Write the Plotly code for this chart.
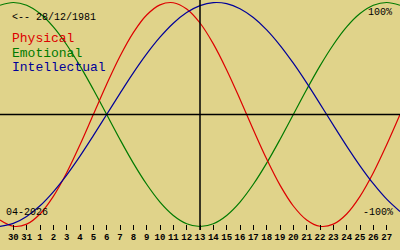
import plotly.graph_objects as go

# day index 0..30 (0 = 29 March, 15 = 13 April "today", 30 = 28 April)
days = list(range(31))

physical = [-0.942, -0.998, -0.979, -0.888, -0.731, -0.520, -0.270, 0.0, 0.270, 0.520,
            0.731, 0.888, 0.979, 0.998, 0.942, 0.817, 0.631, 0.398, 0.136, -0.136,
            -0.398, -0.631, -0.817, -0.942, -0.998, -0.979, -0.888, -0.731, -0.520, -0.270,
            0.0]
emotional = [0.975, 1.0, 0.975, 0.901, 0.782, 0.623, 0.434, 0.223, 0.0, -0.223,
             -0.434, -0.623, -0.782, -0.901, -0.975, -1.0, -0.975, -0.901, -0.782, -0.623,
             -0.434, -0.223, 0.0, 0.223, 0.434, 0.623, 0.782, 0.901, 0.975, 1.0,
             0.975]
intellectual = [-0.999, -0.972, -0.910, -0.815, -0.690, -0.541, -0.372, -0.189, 0.0, 0.189,
                0.372, 0.541, 0.690, 0.815, 0.910, 0.972, 0.999, 0.990, 0.945, 0.866,
                0.756, 0.618, 0.458, 0.282, 0.095, -0.095, -0.282, -0.458, -0.618, -0.756,
                -0.866]

tick_days = list(range(1, 30))
tick_labels = ["30", "31"] + [str(i) for i in range(1, 28)]
today_index = 15

birth_label = "<-- 28/12/1981"
month_label = "04-2026"
series_names = ["Physical", "Emotional", "Intellectual"]

BG = "#e0d38a"
RED = "#dd0000"
GREEN = "#007a00"
BLUE = "#000099"
FONT = "Liberation Mono"

W, H = 400, 250
PLOT_H = 230

fig = go.Figure()
for vals, col in [(emotional, GREEN), (physical, RED), (intellectual, BLUE)]:
    fig.add_trace(go.Scatter(x=days, y=vals, mode="lines",
                             line=dict(color=col, width=1.2, shape="spline", smoothing=1.0),
                             hoverinfo="skip", showlegend=False))

ytop = 114.5 / 112
ybot = (114.5 - PLOT_H) / 112

fig.update_layout(
    width=W, height=H,
    margin=dict(l=0, r=0, t=0, b=H - PLOT_H),
    paper_bgcolor=BG, plot_bgcolor=BG,
    xaxis=dict(range=[0, 30], tickmode="array", tickvals=tick_days, ticktext=tick_labels,
               ticks="inside", ticklen=5, tickwidth=1.3, tickcolor="black",
               showgrid=False, zeroline=False, showline=False,
               tickfont=dict(family=FONT, size=9, color="black", weight="bold"),
               fixedrange=True),
    yaxis=dict(range=[ybot, ytop], showticklabels=False, ticks="", showgrid=False,
               zeroline=False, showline=False, fixedrange=True),
    showlegend=False,
)

# today vertical line and zero line
fig.add_shape(type="line", xref="x", yref="paper", x0=today_index, x1=today_index, y0=0, y1=1,
              line=dict(color="black", width=1.5))
fig.add_shape(type="line", xref="paper", yref="y", x0=0, x1=1, y0=0, y1=0,
              line=dict(color="black", width=1.5))


def px(x):
    return x / W


def py(y):
    return (PLOT_H - y) / PLOT_H


def ann(text, x, y, size, color="black", xanchor="left"):
    fig.add_annotation(text=text, x=px(x), y=py(y), xref="paper", yref="paper",
                       xanchor=xanchor, yanchor="middle", showarrow=False,
                       font=dict(family=FONT, size=size, color=color))


ann(birth_label, 10, 17, 10)
ann(series_names[0], 10, 38, 13, RED)
ann(series_names[1], 10, 53, 13, GREEN)
ann(series_names[2], 10, 68, 13, BLUE)
ann("100%", 394, 12, 10, xanchor="right")
ann("-100%", 395, 212, 10, xanchor="right")
ann(month_label, 4, 212, 10)

fig.write_html("out.html")
